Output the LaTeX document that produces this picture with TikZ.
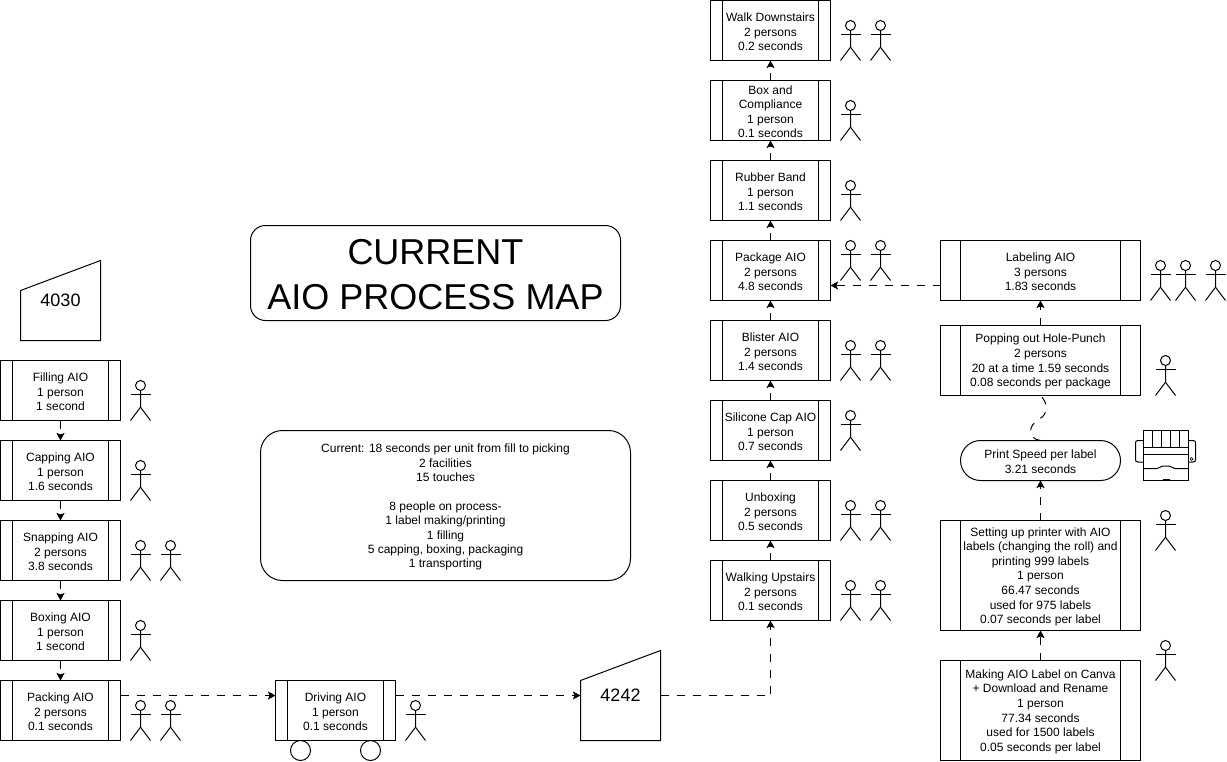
\documentclass[tikz,border=0pt]{standalone}
\usepackage{fontspec}
\setmainfont{Liberation Sans}
\usetikzlibrary{arrows.meta,calc}
\newcommand\fst{\rule{0pt}{11.2pt}}
\tikzset{
  ln/.style={line width=1pt,draw=black},
  proc/.style={ln,rectangle,outer sep=0pt,inner sep=0pt,align=center,fill=white,
    font=\fontsize{12}{14.6}\selectfont,minimum height=60pt,minimum width=120pt,
    path picture={
      \draw[line width=1pt] ([xshift=#1]path picture bounding box.north west) -- ([xshift=#1]path picture bounding box.south west);
      \draw[line width=1pt] ([xshift=-#1]path picture bounding box.north east) -- ([xshift=-#1]path picture bounding box.south east);
    }},
  proc/.default=12pt,
  wide/.style={proc=20pt,minimum width=200pt},
  flow/.style={line width=1pt,dash pattern=on 8pt off 8pt,-{Stealth[length=7.5pt,width=8pt,inset=1.5pt]}},
  plainflow/.style={line width=1pt,dash pattern=on 8pt off 8pt},
  rbox/.style={ln,rectangle,outer sep=0pt,inner sep=0pt,align=center},
  site/.style={rectangle,outer sep=0pt,inner sep=0pt,minimum width=80pt,font=\fontsize{18}{22}\selectfont},
  pics/actor/.style={code={
    \draw[line width=1pt] (10,5) circle[radius=5pt];
    \draw[line width=1pt] (10,10) -- (10,26.7) -- (0,40);
    \draw[line width=1pt] (10,26.7) -- (20,40);
    \draw[line width=1pt] (0,13.5) -- (20,13.5);
  }}
}
\begin{document}
\begin{tikzpicture}[x=1pt,y=-1pt]
\useasboundingbox (0,0) rectangle (1227,761);
% title and notes
\node[rbox,rounded corners=15pt,minimum width=370pt,minimum height=95pt,font=\fontsize{36}{44.5}\selectfont] (title) at (435.5,273) {\rule{0pt}{28.5pt}CURRENT\\AIO PROCESS MAP};
\node[rbox,rounded corners=22pt,minimum width=370pt,minimum height=150pt,font=\fontsize{12}{14.4}\selectfont] (notes) at (445.5,505.5) {\rule{0pt}{12pt}Current: 18 seconds per unit from fill to picking\\2 facilities\\15 touches\\[14.4pt]8 people on process-\\1 label making/printing\\1 filling\\5 capping, boxing, packaging\\1 transporting};
% sites
\node[site,minimum height=80pt] (s4030) at (60.5,300.5) {4030};
\draw[ln] (s4030.south west) -- (s4030.south east) -- (s4030.north east) -- ($(s4030.north west)+(0,30)$) -- cycle;
\node[site,minimum height=90pt] (s4242) at (620.5,695.5) {4242};
\draw[ln] (s4242.south west) -- (s4242.south east) -- (s4242.north east) -- ($(s4242.north west)+(0,30)$) -- cycle;
% left column
\node[proc] (fill) at (60.5,390.5) {\fst Filling AIO\\1 person\\1 second};
\node[proc] (cap) at (60.5,470.5) {\fst Capping AIO\\1 person\\1.6 seconds};
\node[proc] (snap) at (60.5,550.5) {\fst Snapping AIO\\2 persons\\3.8 seconds};
\node[proc] (box) at (60.5,630.5) {\fst Boxing AIO\\1 person\\1 second};
\node[proc] (pack) at (60.5,710.5) {\fst Packing AIO\\2 persons\\0.1 seconds};
% driving
\node[proc] (drive) at (335.5,710.5) {\fst Driving AIO\\1 person\\0.1 seconds};
\node[ln,circle,minimum size=20pt,inner sep=0pt,outer sep=0pt] (w1) at (300.5,750.5) {};
\node[ln,circle,minimum size=20pt,inner sep=0pt,outer sep=0pt] (w2) at (370.5,750.5) {};
% centre column
\node[proc] (walkd) at (770.5,30.5) {\fst Walk Downstairs\\2 persons\\0.2 seconds};
\node[proc] (compl) at (770.5,110.5) {\fst Box and\\Compliance\\1 person\\0.1 seconds};
\node[proc] (rubber) at (770.5,190.5) {\fst Rubber Band\\1 person\\1.1 seconds};
\node[proc] (pkg) at (770.5,270.5) {\fst Package AIO\\2 persons\\4.8 seconds};
\node[proc] (blister) at (770.5,350.5) {\fst Blister AIO\\2 persons\\1.4 seconds};
\node[proc] (sil) at (770.5,430.5) {\fst Silicone Cap AIO\\1 person\\0.7 seconds};
\node[proc] (unbox) at (770.5,510.5) {\fst Unboxing\\2 persons\\0.5 seconds};
\node[proc] (walku) at (770.5,590.5) {\fst Walking Upstairs\\2 persons\\0.1 seconds};
% right column
\node[proc,wide] (lab) at (1040.5,270.5) {\fst Labeling AIO\\3 persons\\1.83 seconds};
\node[proc,wide,minimum height=70pt] (pop) at (1040.5,360.5) {\fst Popping out Hole-Punch\\2 persons\\20 at a time 1.59 seconds\\0.08 seconds per package};
\node[ln,rectangle,rounded corners=20pt,minimum width=160pt,minimum height=40pt,inner sep=0pt,outer sep=0pt,align=center,font=\fontsize{12}{14.6}\selectfont] (print) at (1040.5,460.5) {\fst Print Speed per label\\3.21 seconds};
\node[proc,wide,minimum height=110pt] (setup) at (1040.5,575.5) {\fst Setting up printer with AIO\\labels (changing the roll) and\\printing 999 labels\\1 person\\66.47 seconds\\used for 975 labels\\0.07 seconds per label};
\node[proc,wide,minimum height=100pt] (make) at (1040.5,710.5) {\fst Making AIO Label on Canva\\+ Download and Rename\\1 person\\77.34 seconds\\used for 1500 labels\\0.05 seconds per label};
% connectors
\draw[flow] (fill) -- (cap);
\draw[flow] (cap) -- (snap);
\draw[flow] (snap) -- (box);
\draw[flow] (box) -- (pack);
\draw[flow] ([yshift=15pt]pack.east) -- ([yshift=15pt]drive.west);
\draw[flow] ([yshift=15pt]drive.east) -- (s4242.west);
\draw[flow] (s4242.east) -| (walku.south);
\draw[flow] (walku) -- (unbox);
\draw[flow] (unbox) -- (sil);
\draw[flow] (sil) -- (blister);
\draw[flow] (blister) -- (pkg);
\draw[flow] (pkg) -- (rubber);
\draw[flow] (rubber) -- (compl);
\draw[flow] (compl) -- (walkd);
\draw[flow] ([yshift=-15pt]lab.west) -- ([yshift=-15pt]pkg.east);
\draw[flow] (pop) -- (lab);
\draw[plainflow] (print.north) .. controls ($(print.north)+(-14,-2)$) and ($(print.north)+(-12,-15)$) .. ($(print.north)+(-2,-21)$) .. controls ($(print.north)+(8,-26)$) and ($(pop.south)+(8,8)$) .. (pop.south);
\draw[flow] (setup) -- (print);
\draw[flow] (make) -- (setup);
% actors
\foreach \ax/\ay in {130.5/380.5,130.5/460.5,130.5/540.5,160.5/540.5,130.5/620.5,130.5/700.5,160.5/700.5,405.5/700.5,
  840.5/20.5,870.5/20.5,840.5/100.5,840.5/180.5,840.5/240.5,870.5/240.5,840.5/340.5,870.5/340.5,840.5/410.5,
  840.5/500.5,870.5/500.5,840.5/580.5,870.5/580.5,1150.5/260.5,1175.5/260.5,1205.5/260.5,1155.5/355.5,1155.5/510.5,1155.5/640.5}
  \pic at (\ax,\ay) {actor};
% printer
\begin{scope}[line width=1pt]
\draw (1143,447) -- (1143,430) -- (1188,430) -- (1188,447);
\draw (1152,430) -- (1152,447) (1161,430) -- (1161,447) (1170,430) -- (1170,447) (1179,430) -- (1179,447);
\draw (1143,447) rectangle (1188,480);
\draw (1143,454.5) -- (1188,454.5);
\draw (1143,468.5) -- (1157,468.5) .. controls (1160,468.5) and (1160,466) .. (1163,466) -- (1169,466) .. controls (1172,466) and (1172,468.5) .. (1175,468.5) -- (1188,468.5);
\draw (1143,440.5) -- (1138,440.5) .. controls (1136,440.5) and (1135.5,441.5) .. (1135.5,443) -- (1135.5,459.5) .. controls (1135.5,461) and (1136,462) .. (1138,462) -- (1143,462);
\draw (1188,440.5) -- (1193,440.5) .. controls (1195,440.5) and (1195.5,441.5) .. (1195.5,443) -- (1195.5,459.5) .. controls (1195.5,461) and (1195,462) .. (1193,462) -- (1188,462);
\draw[line width=.7pt] (1191.5,459) circle[radius=1.5pt];
\fill (1162.5,478.5) rectangle (1169.5,480.5);
\end{scope}
\end{tikzpicture}
\end{document}
